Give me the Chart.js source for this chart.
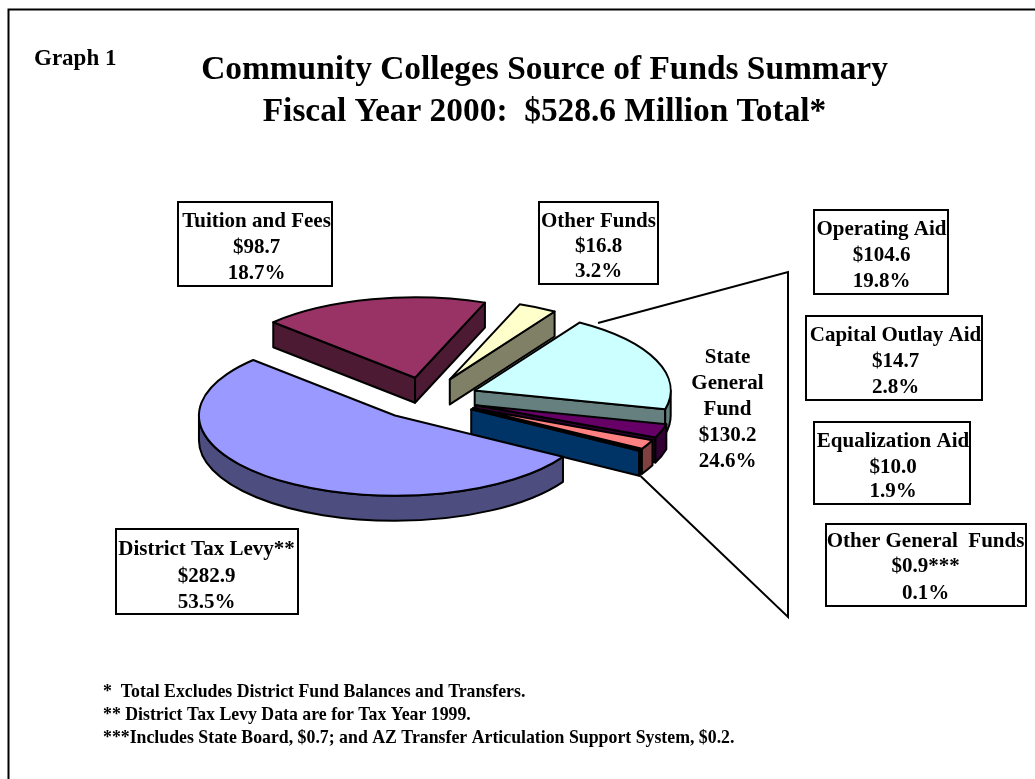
<!DOCTYPE html>
<html>
<head>
<meta charset="utf-8">
<title>Community Colleges Source of Funds Summary</title>
<script src="https://cdn.jsdelivr.net/npm/chart.js@4"></script>
<style>
    html, body { margin: 0; padding: 0; background: #fff; overflow: hidden; }
    canvas { display: block; }
</style>
</head>
<body>
<canvas id="fundsPie" width="1035" height="779"></canvas>
<script>
// Funds by source, $ millions
var categories = ['District Tax Levy**', 'Tuition and Fees', 'Other Funds', 'Operating Aid',
    'Capital Outlay Aid', 'Equalization Aid', 'Other General  Funds'];
var amounts = [282.9, 98.7, 16.8, 104.6, 14.7, 10.0, 0.9];
var amountLabels = ['$282.9', '$98.7', '$16.8', '$104.6', '$14.7', '$10.0', '$0.9***'];
var percentLabels = ['53.5%', '18.7%', '3.2%', '19.8%', '2.8%', '1.9%', '0.1%'];

var titleLines = ['Community Colleges Source of Funds Summary', 'Fiscal Year 2000:  $528.6 Million Total*'];
var stateFundLines = ['State', 'General', 'Fund', '$130.2', '24.6%'];
var footnotes = ['*  Total Excludes District Fund Balances and Transfers.',
    '** District Tax Levy Data are for Tax Year 1999.',
    '***Includes State Board, $0.7; and AZ Transfer Articulation Support System, $0.2.'];

var topColors = ['#9999FF', '#993366', '#FFFFCC', '#CCFFFF', '#660066', '#FF8080', '#0066CC'];
var wallColors = ['#4D4D80', '#4D1A33', '#808066', '#668080', '#330033', '#804040', '#003366'];

// Label boxes, same order as categories: left, top, right, bottom, text centre, baselines
var boxes = [
    [115, 528, 299, 615, 206.5, [555, 582, 608]],
    [177, 201, 333, 287, 256.5, [227, 253, 279]],
    [538, 201, 659, 285, 598.5, [227, 252, 277]],
    [813, 209, 949, 295, 881.5, [235, 261, 287]],
    [805, 315, 983, 401, 895.5, [341, 367, 393]],
    [813, 421, 971, 505, 893, [447, 473, 497]],
    [825, 523, 1027, 607, 925.5, [547, 572, 599]]
];

var TILT = 0.41;    // vertical squash of the pie
var DEPTH = 25;     // wall height in px
var SERIF = '"Liberation Serif", "Times New Roman", serif';

function drawWall(ctx, pts, color) {
    ctx.beginPath();
    ctx.moveTo(pts[0][0], pts[0][1]);
    ctx.lineTo(pts[1][0], pts[1][1]);
    ctx.lineTo(pts[1][0], pts[1][1] + DEPTH);
    ctx.lineTo(pts[0][0], pts[0][1] + DEPTH);
    ctx.closePath();
    ctx.fillStyle = color;
    ctx.fill();
    ctx.stroke();
}

// Slices are ArcElements laid out by the pie controller; this just paints them tilted
function drawSlice(ctx, arc, i) {
    var start = arc.startAngle, end = arc.endAngle, R = arc.outerRadius;
    var mid = (start + end) / 2;
    var off = arc.options.offset;
    var ox = arc.x + Math.cos(mid) * off;
    var oy = arc.y + Math.sin(mid) * off * TILT;
    var rimPoint = function (a) { return [ox + R * Math.cos(a), oy + R * TILT * Math.sin(a)]; };

    ctx.lineWidth = 2;
    ctx.lineJoin = 'round';
    ctx.strokeStyle = '#000';

    // cut faces that turn towards the viewer
    if (Math.cos(start) < 0) drawWall(ctx, [rimPoint(start), [ox, oy]], wallColors[i]);
    if (Math.cos(end) > 0) drawWall(ctx, [[ox, oy], rimPoint(end)], wallColors[i]);

    // front part of the rim
    for (var n = -1; n <= 2; n++) {
        var a0 = Math.max(start, n * 2 * Math.PI);
        var a1 = Math.min(end, n * 2 * Math.PI + Math.PI);
        if (a1 <= a0) continue;
        ctx.beginPath();
        ctx.ellipse(ox, oy, R, R * TILT, 0, a0, a1, false);
        ctx.ellipse(ox, oy + DEPTH, R, R * TILT, 0, a1, a0, true);
        ctx.closePath();
        ctx.fillStyle = wallColors[i];
        ctx.fill();
        ctx.stroke();
    }

    // top surface
    ctx.beginPath();
    ctx.moveTo(ox, oy);
    ctx.ellipse(ox, oy, R, R * TILT, 0, start, end, false);
    ctx.closePath();
    ctx.fillStyle = topColors[i];
    ctx.fill();
    ctx.stroke();
}

var tiltedPie = {
    id: 'tiltedPie',
    beforeDatasetDraw: function (chart, args) {
        var ctx = chart.ctx;
        var arcs = args.meta.data;
        // back slices first, the big front one last
        [1, 2, 3, 4, 5, 6, 0].forEach(function (i) { drawSlice(ctx, arcs[i], i); });
        return false;
    }
};

var annotations = {
    id: 'annotations',
    afterDraw: function (chart) {
        var ctx = chart.ctx;
        ctx.save();
        ctx.strokeStyle = '#000';
        ctx.fillStyle = '#000';
        ctx.lineJoin = 'miter';

        // page frame, open on the right and at the bottom
        ctx.lineWidth = 2;
        ctx.beginPath();
        ctx.moveTo(8.5, 779);
        ctx.lineTo(8.5, 9.5);
        ctx.lineTo(1035, 9.5);
        ctx.stroke();

        // bracket from the state slices out to the breakdown
        ctx.beginPath();
        ctx.moveTo(598, 323);
        ctx.lineTo(788, 272);
        ctx.lineTo(788, 617);
        ctx.lineTo(640.5, 476);
        ctx.stroke();

        ctx.textAlign = 'center';
        ctx.textBaseline = 'alphabetic';

        ctx.font = 'bold 33.4px ' + SERIF;
        ctx.fillText(titleLines[0], 544.5, 79);
        ctx.fillText(titleLines[1], 544.5, 121);

        ctx.font = 'bold 21px ' + SERIF;
        boxes.forEach(function (b, i) {
            ctx.strokeRect(b[0] + 1, b[1] + 1, b[2] - b[0] - 2, b[3] - b[1] - 2);
            ctx.fillText(categories[i], b[4], b[5][0]);
            ctx.fillText(amountLabels[i], b[4], b[5][1]);
            ctx.fillText(percentLabels[i], b[4], b[5][2]);
        });

        var stateY = [363, 389, 415, 441, 467];
        stateFundLines.forEach(function (line, i) {
            ctx.fillText(line, 727.5, stateY[i]);
        });

        ctx.textAlign = 'left';
        ctx.font = 'bold 23px ' + SERIF;
        ctx.fillText('Graph 1', 34, 65);

        ctx.font = 'bold 17.8px ' + SERIF;
        var footY = [697, 720, 743];
        footnotes.forEach(function (line, i) {
            ctx.fillText(line, 103, footY[i]);
        });
        ctx.restore();
    }
};

var ctx = document.getElementById('fundsPie').getContext('2d');
var fundsChart = new Chart(ctx, {
    type: 'pie',
    data: {
        labels: categories,
        datasets: [{
            data: amounts,
            backgroundColor: topColors,
            offset: 52,
            radius: 196
        }]
    },
    options: {
        responsive: false,
        animation: false,
        rotation: 121,
        layout: { padding: { top: 18, right: 182 } },
        plugins: {
            legend: { display: false },
            title: { display: false },
            tooltip: { enabled: false }
        }
    },
    plugins: [tiltedPie, annotations]
});
</script>
</body>
</html>
